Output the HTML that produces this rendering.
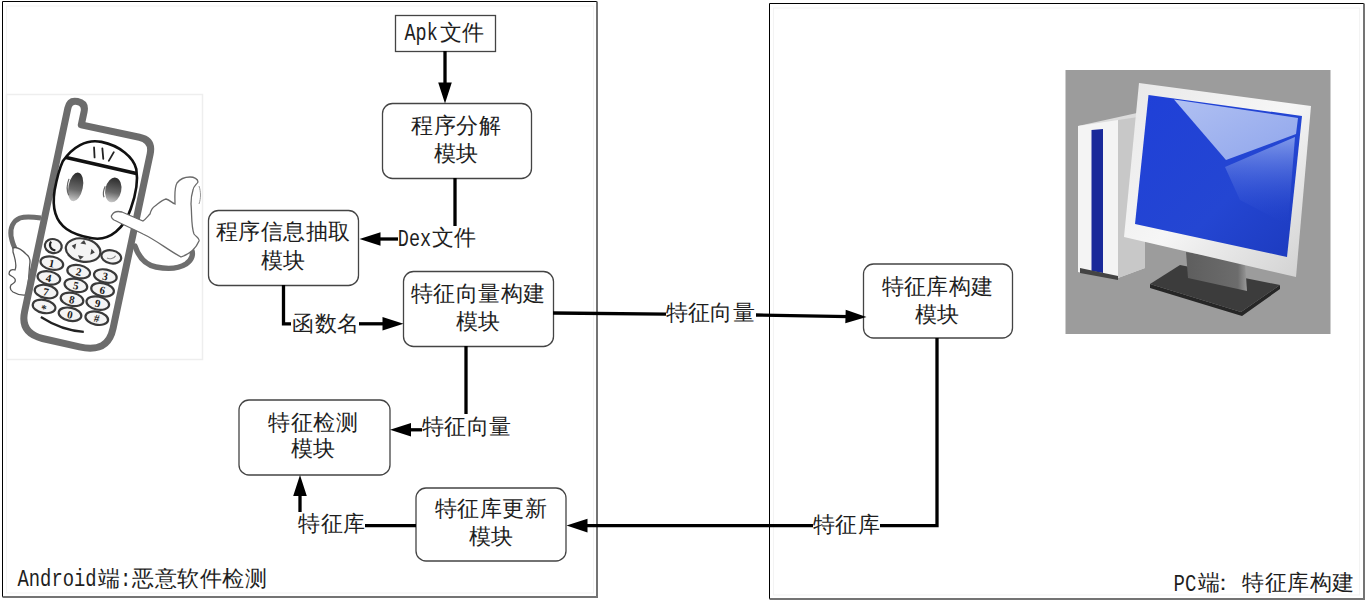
<!DOCTYPE html>
<html><head><meta charset="utf-8">
<style>
html,body{margin:0;padding:0;background:#fff;width:1366px;height:600px;overflow:hidden;}
svg{display:block;position:absolute;left:0;top:0;}
text{font-family:"Liberation Serif", serif;fill:#1e1e1e;}
.m{font-family:"Liberation Mono", monospace;}
.s{font-family:"Liberation Serif", serif;}
</style></head><body>
<svg width="1366" height="600" viewBox="0 0 1366 600">
<defs>
<marker id="ah" viewBox="0 0 20 14" refX="20" refY="7" markerWidth="20" markerHeight="14" markerUnits="userSpaceOnUse" orient="auto">
<path d="M0,0 L20,7 L0,14 Z" fill="#000"/>
</marker>
</defs>
<!-- panels -->
<g id="panels">
<rect x="6.5" y="6" width="587" height="587" fill="none" stroke="#f3f3f3" stroke-width="1"/>
<rect x="773.5" y="8" width="586" height="587" fill="none" stroke="#f3f3f3" stroke-width="1"/>
<path d="M2.5,597 L2.5,1.5 L597,1.5" fill="none" stroke="#000" stroke-width="1"/>
<path d="M597,1.5 L597,597 L2.5,597" fill="none" stroke="#747474" stroke-width="2"/>
<path d="M769.5,599 L769.5,3.5 L1364,3.5" fill="none" stroke="#000" stroke-width="1"/>
<path d="M1364,3.5 L1364,599 L769.5,599" fill="none" stroke="#747474" stroke-width="2"/>
</g>
<!-- phone -->
<g id="phone">
<defs>
<linearGradient id="eye" x1="0" y1="0" x2="0" y2="1">
<stop offset="0" stop-color="#2a2a2a"/><stop offset="0.6" stop-color="#6a6a6a"/><stop offset="1" stop-color="#c8c8c8"/>
</linearGradient>
</defs>
<rect x="6.5" y="94.5" width="196" height="265" fill="#fff" stroke="#eeeeee" stroke-width="1.5"/>
<!-- left arm -->
<path d="M41,218 C34,217 26,216 20,218 C13,221 10,228 11,236 C12,241 13,245 15,248" fill="none" stroke="#6e6e6e" stroke-width="5" stroke-linecap="butt"/>
<path d="M13,248 C17,246 22,250 26,254 C29,256 30,258 30,262 C29,270 29,278 28,284 C27,288 30,291 31,294 C25,296 18,295 13,292 C10,290 10,287 11,285 C14,283 16,282 15,279 C13,276 10,276 9,274 C9,270 12,269 15,270 C17,266 15,258 13,252 Z" fill="#fff" stroke="#555" stroke-width="1.3"/>
<!-- right arm -->
<path d="M135,246 C139,258 146,265 156,267 C166,269 178,269 186,264 C192,260 194,254 191,249" fill="none" stroke="#6e6e6e" stroke-width="5.4" stroke-linecap="round"/>
<path transform="translate(86.7,236) rotate(12)" d="M-37,-129.6 Q-28.4,-129.6 -28.4,-121 L-28.4,-107.5 L31,-107.5 Q45,-107.5 45,-93.5 L45,85 C45,102 36,110 16,110 L-22,109.5 C-38,109 -45,101 -45,87 L-45,-121 Q-45,-129.6 -37,-129.6 Z" fill="#fff" stroke="#6c6c6c" stroke-width="7" stroke-linejoin="round"/>
<g transform="translate(89,236) rotate(11.5)">
<path d="M-6.6,-94.7 C12,-94.7 28,-86 33,-75 C38,-62 37,-45 35.5,-35 C33,-15 22,1 3.6,1.6 C-10,2 -18,0 -23.4,-2.4 C-36,-8 -42,-20 -42.8,-37.7 C-43,-50 -42,-62 -40.6,-68 C-34,-84 -22,-94.7 -6.6,-94.7 Z" fill="#fff" stroke="#111" stroke-width="2.6"/>
<path d="M-38,-72.4 L34,-70.8" stroke="#111" stroke-width="3.6"/>
<path d="M-12.7,-87.8 L-10.2,-78.1 M-4.4,-88.6 L-1.4,-78.5 M7.6,-87.1 L4.4,-77.6" stroke="#222" stroke-width="1.8" stroke-linecap="round"/>
<ellipse cx="-22.9" cy="-45.5" rx="7.2" ry="14.5" fill="url(#eye)"/>
<ellipse cx="14.6" cy="-50" rx="8" ry="12.5" fill="url(#eye)"/>
<path d="M-31,-52 C-32,-46 -31,-40 -28,-36" fill="none" stroke="#666" stroke-width="1.2"/>
<path d="M6,-52 C5,-48 5,-44 7,-41" fill="none" stroke="#666" stroke-width="1.2"/>
<g fill="#f4f4f4" stroke="#3a3a3a" stroke-width="2.2">
<ellipse cx="-33" cy="17" rx="8.5" ry="7"/>
<ellipse cx="-3" cy="15" rx="17.5" ry="11.5"/>
<ellipse cx="26" cy="16" rx="10" ry="6.5"/>
<ellipse cx="-31" cy="34" rx="11.5" ry="6.5"/>
<ellipse cx="-3" cy="37" rx="11.5" ry="6.5"/>
<ellipse cx="24" cy="36" rx="11.5" ry="6.5"/>
<ellipse cx="-31" cy="49" rx="11.5" ry="6.5"/>
<ellipse cx="-3" cy="51" rx="11.5" ry="6.5"/>
<ellipse cx="24" cy="50" rx="11.5" ry="6.5"/>
<ellipse cx="-31" cy="63" rx="11.5" ry="6.5"/>
<ellipse cx="-4" cy="65.5" rx="11.5" ry="6.5"/>
<ellipse cx="22" cy="64" rx="11.5" ry="6.5"/>
<ellipse cx="-30" cy="78" rx="11.5" ry="6.5"/>
<ellipse cx="-3" cy="80.5" rx="11.5" ry="6.5"/>
<ellipse cx="24" cy="79" rx="11.5" ry="6.5"/>
</g>
<path d="M-4,5 L-1,9 L-7,9 Z M-4,25 L-1,21 L-7,21 Z M-15,13 L-11,10 L-11,16 Z M9,15 L5,12 L5,18 Z" fill="#444"/>
<path d="M-36,13 C-38,17 -35,21 -30,21" fill="none" stroke="#222" stroke-width="2"/>
<path d="M22,18 C25,19 29,17 30,14" fill="none" stroke="#888" stroke-width="1.2"/>
<g font-family="Liberation Sans, sans-serif" font-size="11" font-weight="bold" text-anchor="middle" fill="#222">
<text x="-31" y="38">1</text><text x="-3" y="41">2</text><text x="24" y="40">3</text>
<text x="-31" y="53">4</text><text x="-3" y="55">5</text><text x="24" y="54">6</text>
<text x="-31" y="67">7</text><text x="-4" y="69.5">8</text><text x="22" y="68">9</text>
<text x="-30" y="84">*</text><text x="-3" y="84.5">0</text><text x="24" y="83">#</text>
</g>
<path d="M-31,89 Q-8,98 14,95" fill="none" stroke="#222" stroke-width="2.2"/>
</g>
<!-- right hand -->
<path d="M112,215 C114,211 118,211 122,212 L143,221 C146,219 148,216 150,214 C151,210 152,208 155,206 C159,203 162,200 166,199 C170,200 172,203 175,204 C175,196 174,188 177,183 C180,179 185,177 190,177 C194,177 198,179 198,182 C196,185 193,187 193,190 C191,196 191,200 191,204 C192,214 191,226 194,234 C196,237 200,238 199,241 C196,248 190,254 181,257 C168,250 156,240 143,234 C133,229 122,224 114,220 C111,218 111,216 112,215 Z" fill="#fff" stroke="#6a6a6a" stroke-width="1.3"/>
<path d="M199,186 C201,192 201,198 199,204" fill="none" stroke="#999" stroke-width="1"/>
</g>
<!-- computer -->
<g id="pc">
<defs>
<linearGradient id="scr" x1="0" y1="0" x2="1" y2="1">
<stop offset="0" stop-color="#1f40d8"/><stop offset="0.6" stop-color="#2446d2"/><stop offset="1" stop-color="#1c3abe"/>
</linearGradient>
<linearGradient id="hl" x1="0" y1="0" x2="1" y2="1">
<stop offset="0" stop-color="#b0c0f2"/><stop offset="1" stop-color="#90a6ec"/>
</linearGradient>
<linearGradient id="hl2" x1="0" y1="0" x2="0" y2="1">
<stop offset="0" stop-color="#8aa2ec" stop-opacity="1"/><stop offset="1" stop-color="#2446d2" stop-opacity="0"/>
</linearGradient>
<linearGradient id="bez" x1="0" y1="0" x2="1" y2="1">
<stop offset="0" stop-color="#e8e8e8"/><stop offset="0.5" stop-color="#f6f6f6"/><stop offset="1" stop-color="#d0d0d0"/>
</linearGradient>
</defs>
<rect x="1065.5" y="70" width="265" height="264" fill="#9c9c9c"/>
<!-- tower -->
<path d="M1078,126 L1137,113 L1145,118 L1145,268 L1118,278 L1078,272 Z" fill="#dcdcdc"/>
<path d="M1078,126 L1118,120 L1118,278 L1078,272 Z" fill="#f4f4f4"/>
<path d="M1118,120 L1145,116 L1145,268 L1118,278 Z" fill="#c8c8c8"/>
<path d="M1091.5,130 L1103,129 L1103,273 L1091.5,271 Z" fill="#1a2a9a"/>
<path d="M1080,268 L1118,276 L1118,280 L1080,273 Z" fill="#444"/>
<!-- stand -->
<path d="M1150,284 L1241,312 L1280,285 L1280,289 L1242,316 L1150,288 Z" fill="#262626"/>
<path d="M1150,284 L1180,265 L1280,285 L1241,312 Z" fill="#3c3c3c"/>
<defs><linearGradient id="neck" x1="0" y1="0" x2="1" y2="0"><stop offset="0" stop-color="#5e5e5e"/><stop offset="0.85" stop-color="#6c6c6c"/><stop offset="1" stop-color="#9a9a9a"/></linearGradient></defs>
<path d="M1186,252 L1245,262 L1247,291 L1188,278 Z" fill="url(#neck)"/>
<!-- monitor -->
<path d="M1139,83 L1311,106 L1296,277 L1124,237 Z" fill="url(#bez)"/>
<path d="M1148.5,95 L1302,116 L1287,257 L1135,224 Z" fill="url(#scr)"/>
<path d="M1174,99.5 L1298,118 L1296,134 L1226,160 Z" fill="url(#hl)"/>
<path d="M1225,167 L1295,137 L1288,225 L1240,200 Z" fill="url(#hl2)" opacity="0.9"/>
</g>
<!-- boxes -->
<g fill="#fff" stroke="#444" stroke-width="1.3">
<rect x="395.5" y="15.5" width="100" height="36"/>
<rect x="382.5" y="103.5" width="149" height="75" rx="10"/>
<rect x="208.5" y="210.5" width="150" height="75" rx="10"/>
<rect x="403.5" y="271.5" width="150" height="75" rx="10"/>
<rect x="239" y="400" width="151" height="75" rx="10"/>
<rect x="416" y="488" width="150" height="73" rx="10"/>
<rect x="863.5" y="264" width="149" height="74" rx="10"/>
</g>
<!-- connectors -->
<g fill="none" stroke="#000" stroke-width="3.3">
<path d="M445,51 L445,86"/>
<path d="M455,178 L455,226"/>
<path d="M398,239 L376,239"/>
<path d="M283.5,285 L283.5,323.8 L291,323.8"/>
<path d="M359,323.8 L386,323.8"/>
<path d="M466,346 L466,414"/>
<path d="M422,429.8 L407,429.8"/>
<path d="M416,525.6 L365,525.6"/>
<path d="M300,512 L300,492"/>
<path d="M553,313 L666,314.2"/>
<path d="M756,315 L849,316.6"/>
<path d="M937,338 L937,525.6 L880,525.6"/>
<path d="M813,525.6 L583,525.6"/>
</g>
<path fill="#000" d="M445.0,103.5 L438.2,82.5 L451.8,82.5 Z M359.5,239.0 L380.5,232.2 L380.5,245.8 Z M403.5,323.8 L382.5,330.6 L382.5,317.0 Z M390.0,429.8 L411.0,423.0 L411.0,436.6 Z M300.0,475.0 L306.8,496.0 L293.2,496.0 Z M866.5,317.0 L845.3,323.3 L845.7,309.7 Z M566.5,525.6 L587.5,518.8 L587.5,532.4 Z"/>
<!-- texts -->
<g font-size="21.5">
<text x="411.4" y="133.4" textLength="89.3">程序分解</text>
<text x="433.9" y="160.8" textLength="44.1">模块</text>
<text x="215.6" y="239.1" textLength="134.5">程序信息抽取</text>
<text x="260.9" y="267.8" textLength="44.1">模块</text>
<text x="410.6" y="301.3" textLength="134.5">特征向量构建</text>
<text x="455.9" y="328.8" textLength="44.1">模块</text>
<text x="268.2" y="429.5" textLength="89.3">特征检测</text>
<text x="290.9" y="456.3" textLength="44.1">模块</text>
<text x="434.9" y="515.9" textLength="111.9">特征库更新</text>
<text x="468.9" y="544.1" textLength="44.1">模块</text>
<text x="881.5" y="294" textLength="111.9">特征库构建</text>
<text x="915.3" y="321.5" textLength="44.1">模块</text>
<text x="292.4" y="330.6" textLength="66.7">函数名</text>
<text x="422.0" y="434.2" textLength="89.3">特征向量</text>
<text x="298.3" y="531.2" textLength="66.7">特征库</text>
<text x="665.6" y="320.4" textLength="89.3">特征向量</text>
<text x="812.9" y="531.8" textLength="66.7">特征库</text>
<text class="m" transform="translate(404.5,39.7) scale(0.804,1)" font-size="23">Apk</text>
<text x="439.8" y="40.2" textLength="44.1">文件</text>
<text class="m" transform="translate(397.8,245.9) scale(0.804,1)" font-size="23">Dex</text>
<text x="431.5" y="244.8" textLength="44.1">文件</text>
<text class="m" transform="translate(17.5,585.9) scale(0.819,1)" font-size="23">Android</text>
<text x="97.7" y="585.8" textLength="21.5">端</text>
<text class="m" transform="translate(120.0,585.9) scale(0.819,1)" font-size="23">:</text>
<text x="132.3" y="585.8" textLength="134.5">恶意软件检测</text>
<text class="m" transform="translate(1173.6,590.6) scale(0.826,1)" font-size="23">PC</text>
<text x="1198.0" y="589.9" textLength="21.5">端</text>
<text x="1211.7" y="589.9" textLength="21.5">：</text>
<text x="1242.2" y="589.9" textLength="111.9">特征库构建</text>

</g>
</svg>
</body></html>
